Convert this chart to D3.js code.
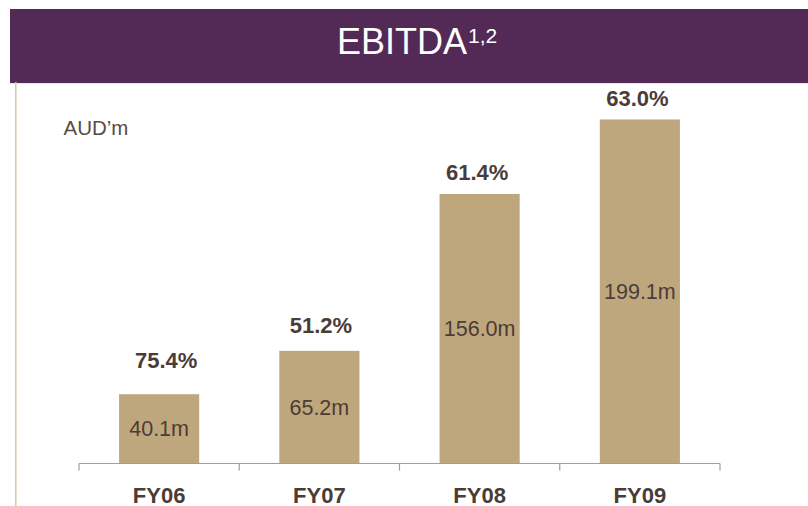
<!DOCTYPE html>
<html>
<head>
<meta charset="utf-8">
<script src="https://cdn.jsdelivr.net/npm/d3@7"></script>
<style>
  body { margin: 0; background: #fff; }
  svg { display: block; font-family: "Liberation Sans", Arial, sans-serif; }
</style>
</head>
<body>
<script>
var width = 808;
var height = 506;

// data
var years = ["FY06", "FY07", "FY08", "FY09"];
var ebitda = [40.1, 65.2, 156.0, 199.1];   // AUD m
var margins = ["75.4%", "51.2%", "61.4%", "63.0%"];   // EBITDA margin labels
var valueLabels = ["40.1m", "65.2m", "156.0m", "199.1m"];

// the % labels were placed by hand in the original slide, small nudges from the bar top
var pctNudge = [[7, -13], [1.5, -4.3], [-2.5, -0.2], [-2.5, 0]];

var purple = "#532a56";
var tan = "#bea77d";
var textCol = "#4b3c37";

var svg = d3.select("body").append("svg")
    .attr("width", width)
    .attr("height", height);

// header band
svg.append("rect")
    .attr("x", 10)
    .attr("y", 9)
    .attr("width", width - 10)
    .attr("height", 74)
    .style("fill", purple);

svg.append("line")
    .attr("x1", 10).attr("x2", width)
    .attr("y1", 83.5).attr("y2", 83.5)
    .style("stroke", "#efe7d6")
    .style("stroke-width", 1);

// left frame line
svg.append("line")
    .attr("x1", 15.8).attr("x2", 15.8)
    .attr("y1", 82).attr("y2", height)
    .style("stroke", "#d6c6a3")
    .style("stroke-width", 1.5);

var title = svg.append("text")
    .attr("x", 337)
    .attr("y", 54.3)
    .style("fill", "#fff")
    .style("font-size", "36px");
title.append("tspan").text("EBITDA");
title.append("tspan")
    .attr("dx", 1)
    .attr("y", 43)
    .style("font-size", "21px")
    .text("1,2");

svg.append("text")
    .attr("x", 63.5)
    .attr("y", 135)
    .style("fill", "#5b4a44")
    .style("font-size", "20.5px")
    .text("AUD\u2019m");

// scales
var x = d3.scaleBand()
    .domain(years)
    .range([79, 720])
    .paddingInner(0.5)
    .paddingOuter(0.25);

var y = d3.scaleLinear()
    .domain([0, 200])
    .range([463.5, 117.9]);

var chart = svg.append("g");

chart.selectAll("rect.bar")
    .data(years)
  .enter().append("rect")
    .attr("class", "bar")
    .attr("x", function(d) { return x(d); })
    .attr("y", function(d, i) { return y(ebitda[i]); })
    .attr("width", x.bandwidth())
    .attr("height", function(d, i) { return y(0) - y(ebitda[i]); })
    .style("fill", tan);

// value inside the bar
chart.selectAll("text.val")
    .data(years)
  .enter().append("text")
    .attr("class", "val")
    .attr("x", function(d) { return x(d) + x.bandwidth() / 2; })
    .attr("y", function(d, i) { return (y(0) + y(ebitda[i])) / 2; })
    .attr("dy", "0.35em")
    .style("text-anchor", "middle")
    .style("fill", textCol)
    .style("font-size", "21.5px")
    .text(function(d, i) { return valueLabels[i]; });

// margin % above the bar
chart.selectAll("text.pct")
    .data(years)
  .enter().append("text")
    .attr("class", "pct")
    .attr("x", function(d, i) { return x(d) + x.bandwidth() / 2 + pctNudge[i][0]; })
    .attr("y", function(d, i) { return y(ebitda[i]) - 13.5 + pctNudge[i][1]; })
    .style("text-anchor", "middle")
    .style("fill", textCol)
    .style("font-size", "22px")
    .style("font-weight", "bold")
    .text(function(d, i) { return margins[i]; });

// x axis: baseline with ticks between categories
var xAxis = d3.axisBottom(x)
    .tickSize(0)
    .tickPadding(23.5);

var axisG = chart.append("g")
    .attr("transform", "translate(0," + y(0) + ")")
    .call(xAxis);
axisG.select(".domain").remove();
axisG.selectAll("text")
    .style("fill", textCol)
    .style("font-size", "22px")
    .style("font-weight", "bold")
    .style("font-family", "'Liberation Sans', Arial, sans-serif");

var step = x.step();
var bounds = years.map(function(d) { return x(d) - step * 0.25; });
bounds.push(x(years[years.length - 1]) + x.bandwidth() + step * 0.25);

chart.append("line")
    .attr("x1", bounds[0]).attr("x2", bounds[bounds.length - 1])
    .attr("y1", y(0)).attr("y2", y(0))
    .style("stroke", "#a89a98")
    .style("stroke-width", 1.2);

chart.selectAll("line.tick")
    .data(bounds)
  .enter().append("line")
    .attr("class", "tick")
    .attr("x1", function(d) { return d; })
    .attr("x2", function(d) { return d; })
    .attr("y1", y(0))
    .attr("y2", y(0) + 7)
    .style("stroke", "#a89a98")
    .style("stroke-width", 1.2);
</script>
</body>
</html>
